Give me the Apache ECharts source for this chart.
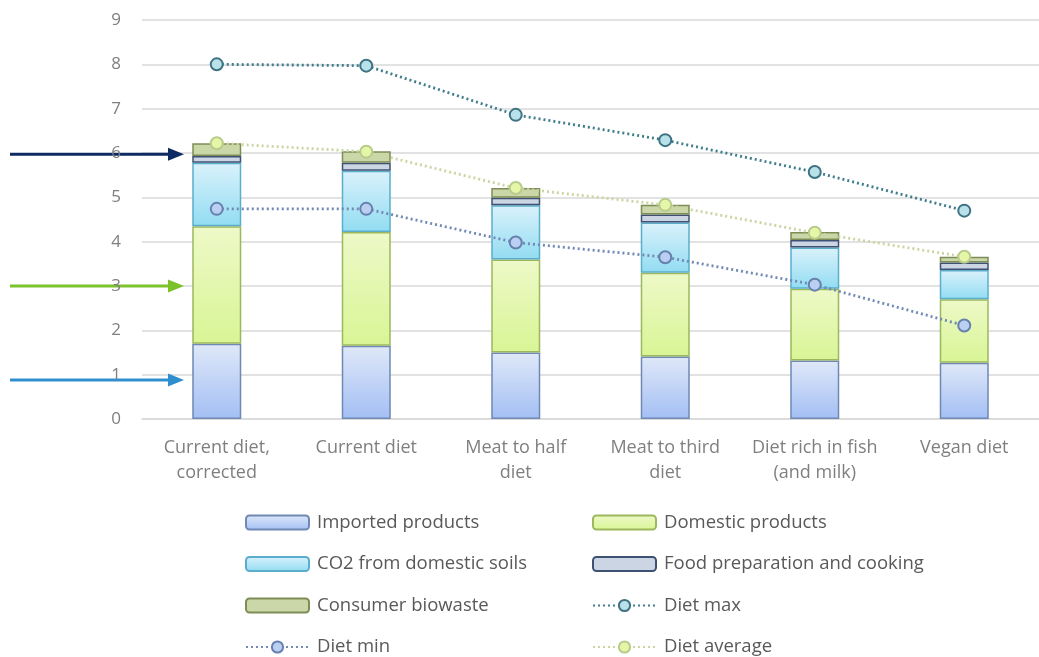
<!DOCTYPE html>
<html><head><meta charset="utf-8">
<script src="https://cdn.jsdelivr.net/npm/echarts@6/dist/echarts.min.js"></script>
<style>html,body{margin:0;padding:0;background:#fff}#c{width:1039px;height:657px}</style>
</head><body><div id="c"></div>
<script>
const categories = ["Current diet,\ncorrected", "Current diet", "Meat to half\ndiet", "Meat to third\ndiet", "Diet rich in fish\n(and milk)", "Vegan diet"];
const imported = [1.70, 1.65, 1.50, 1.41, 1.32, 1.27];
const domestic = [2.65, 2.57, 2.10, 1.89, 1.62, 1.43];
const co2Soils = [1.43, 1.38, 1.22, 1.13, 0.93, 0.66];
const foodPrep = [0.15, 0.18, 0.17, 0.18, 0.17, 0.17];
const biowaste = [0.29, 0.26, 0.22, 0.22, 0.18, 0.13];
const dietMax = [8.0, 7.97, 6.86, 6.29, 5.57, 4.70];
const dietMin = [4.74, 4.74, 3.98, 3.65, 3.03, 2.11];
const dietAvg = [6.22, 6.03, 5.21, 4.83, 4.20, 3.66];
const yTicks = [0, 1, 2, 3, 4, 5, 6, 7, 8, 9];
const arrowLevels = [5.97, 3.0, 0.88];
const arrowColors = ["#0d2a63", "#7cc22a", "#2e8fcf"];

const FONT = "Open Sans";
function grad(top, bottom) {
  return new echarts.graphic.LinearGradient(0, 0, 0, 1, [{offset: 0, color: top}, {offset: 1, color: bottom}]);
}
function bar(name, data, fill, border) {
  return {name, type: 'bar', stack: 'total', data, barWidth: 49,
    itemStyle: {color: fill, borderColor: border, borderWidth: 1.5}};
}
function line(name, data, lineColor, symFill, symBorder) {
  return {name, type: 'line', data, symbol: 'circle', symbolSize: 12, z: 5,
    lineStyle: {color: lineColor, width: 2.8, type: [2, 3]},
    itemStyle: {color: symFill, borderColor: symBorder, borderWidth: 2}};
}
const legendText = {color: '#595959', fontSize: 18.5, fontFamily: FONT, padding: [0, 0, 0, 3]};
const legendCommon = {orient: 'vertical', top: 508, height: 190, itemWidth: 63, itemHeight: 14, itemGap: 22.5, textStyle: legendText};
const chart = echarts.init(document.getElementById('c'));
chart.setOption({
  animation: false,
  grid: {left: 142, right: -9, top: 20, bottom: 238, containLabel: false},
  legend: [
    Object.assign({data: ['Imported products', 'CO2 from domestic soils', 'Consumer biowaste', 'Diet min'], left: 240}, legendCommon),
    Object.assign({data: ['Domestic products', 'Food preparation and cooking', 'Diet max', 'Diet average'], left: 587}, legendCommon)
  ],
  xAxis: {type: 'category', data: categories,
    axisLine: {lineStyle: {color: '#d9d9d9', width: 1.5}}, axisTick: {show: false},
    axisLabel: {color: '#7f7f7f', fontSize: 18, fontFamily: FONT, lineHeight: 25, margin: 16, interval: 0}},
  yAxis: {type: 'value', min: 0, max: 9, interval: 1,
    axisLine: {show: false}, axisTick: {show: false},
    splitLine: {lineStyle: {color: '#d9d9d9', width: 1.5}},
    axisLabel: {color: '#7f7f7f', fontSize: 17, fontFamily: FONT, margin: 21,
      formatter: v => yTicks.includes(v) ? String(v) : ''}},
  series: [
    bar('Imported products', imported, grad('#dfe8f8', '#a3bff4'), '#6f88b4'),
    bar('Domestic products', domestic, grad('#eef9c8', '#d8f595'), '#9bb85c'),
    bar('CO2 from domestic soils', co2Soils, grad('#daf2fb', '#92dcf2'), '#5aaecb'),
    bar('Food preparation and cooking', foodPrep, '#ccd5e4', '#3e5173'),
    bar('Consumer biowaste', biowaste, '#cbd7a8', '#7d8d55'),
    line('Diet max', dietMax, '#3f7d8c', '#b9e1ea', '#3f7283'),
    line('Diet min', dietMin, '#7189b4', '#bacff2', '#6681ad'),
    line('Diet average', dietAvg, '#c9d6a2', '#e6f6a8', '#b8cb8a')
  ]
});
const gfx = arrowLevels.map((v, i) => {
  const y = chart.convertToPixel({yAxisIndex: 0}, v);
  return {type: 'group', children: [
    {type: 'line', shape: {x1: 10, y1: y, x2: 170, y2: y}, style: {stroke: arrowColors[i], lineWidth: 3}},
    {type: 'polygon', shape: {points: [[168, y - 6.5], [184, y], [168, y + 6.5]]}, style: {fill: arrowColors[i]}}
  ]};
});
chart.setOption({graphic: gfx});
</script></body></html>
